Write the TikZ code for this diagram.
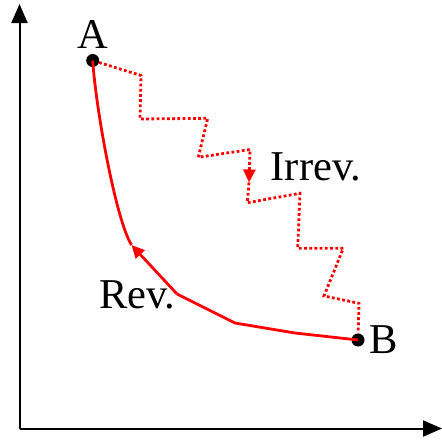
\documentclass[tikz,border=0pt]{standalone}
\usepackage{fontspec}
\setmainfont{Liberation Serif}
\usetikzlibrary{arrows.meta}
\begin{document}
\begin{tikzpicture}[x=1pt,y=-1pt,
  axis/.style={line width=2pt,black,-{Triangle[length=19pt,width=16pt]}},
  revline/.style={line width=2.8pt,red},
  irrline/.style={line width=2.8pt,red,dash pattern=on 2.8pt off 2.4pt},
  redtip/.style={-{Triangle[length=13pt,width=12pt]}},
  pt/.style={circle,fill=black,inner sep=0pt,minimum size=13pt},
  lbl/.style={inner sep=0pt,font=\fontsize{42.5}{42.5}\selectfont}]
\useasboundingbox (0,0) rectangle (442,442);
% axes
\coordinate (O) at (19.5,428.5);
\coordinate (ytip) at (19.5,4);
\coordinate (xtip) at (442,428.5);
\draw[axis] (O) -- (ytip);
\draw[axis] (O) -- (xtip);
% points
\node[pt] (A) at (92.7,60.5) {};
\node[pt] (B) at (358,340) {};
% reversible path
\coordinate (r1) at (295,333);
\coordinate (r2) at (235,323);
\coordinate (r3) at (177,294);
\coordinate (r4) at (131.5,245);
\draw[revline,line join=round] (B.center) -- (r1) -- (r2) -- (r3);
\draw[revline,redtip] (r3) -- (r4);
\draw[revline] (r4) .. controls (116,220) and (96,110) .. (A.center);
% irreversible path
\coordinate (i1) at (141,75.5);
\coordinate (i2) at (140,119);
\coordinate (i3) at (207.7,118.3);
\coordinate (i4) at (198.3,157.3);
\coordinate (i5) at (250,149.5);
\coordinate (i6) at (249,182.5);
\coordinate (i7) at (247.3,202.7);
\coordinate (i8) at (300,193.3);
\coordinate (i9) at (297.7,248.3);
\coordinate (i10) at (343.3,248.3);
\coordinate (i11) at (324,296);
\coordinate (i12) at (359,303.3);
\draw[irrline,redtip] (A) -- (i1) -- (i2) -- (i3) -- (i4) -- (i5) -- (i6);
\draw[irrline] (i6) -- (i7) -- (i8) -- (i9) -- (i10) -- (i11) -- (i12) -- (B);
% labels
\node[lbl,anchor=base] (lA) at (93,48) {A};
\node[lbl,anchor=base west] (lB) at (369,353) {B};
\node[lbl,anchor=base west] (lirr) at (270.5,180) {Irrev.};
\node[lbl,anchor=base west] (lrev) at (99,308) {Rev.};
\end{tikzpicture}
\end{document}
